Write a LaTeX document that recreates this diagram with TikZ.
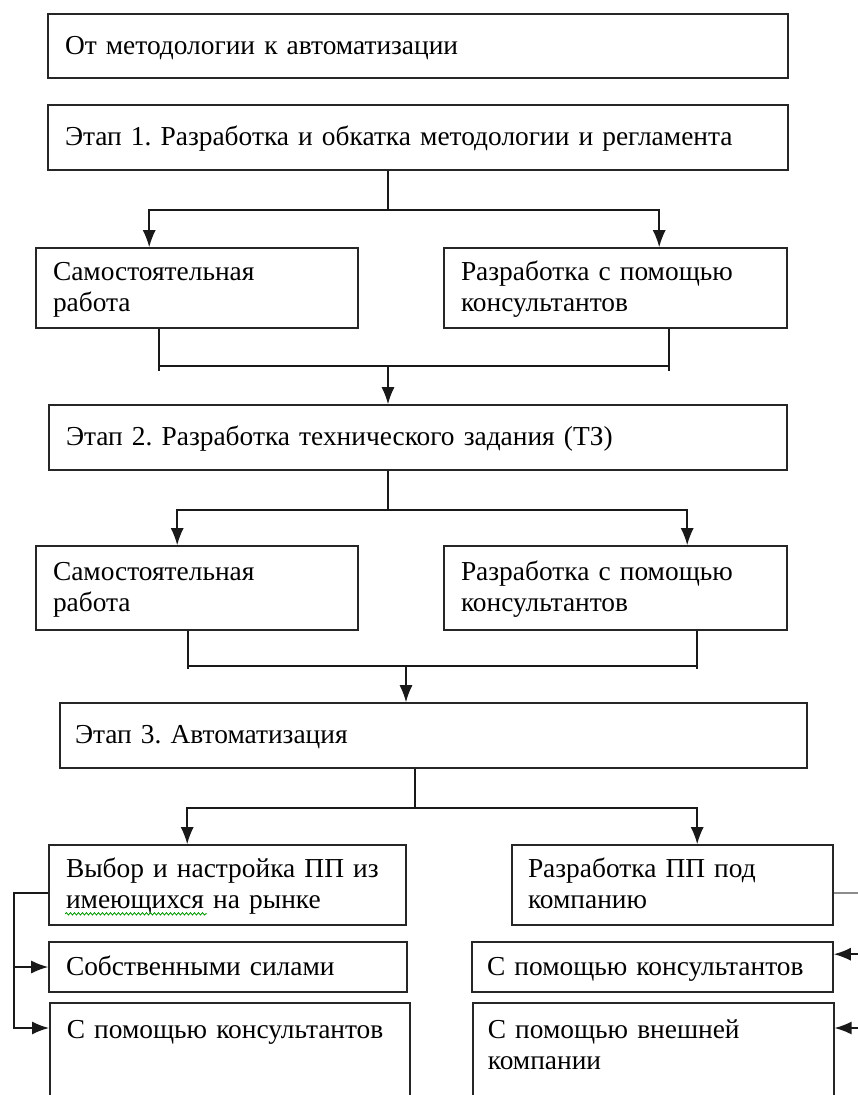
\documentclass[tikz,border=0pt]{standalone}
\usepackage{fontspec}
\setmainfont{Liberation Serif}[WordSpace=0.7]
\usetikzlibrary{arrows.meta,calc,decorations.pathmorphing}
\frenchspacing
\tikzset{
  box/.style={draw=black!85, line width=1.6pt, rectangle, inner xsep=17pt, inner ysep=0pt, align=left,
    font=\fontsize{27.4}{31}\selectfont,
    execute at begin node={\rule{0pt}{24pt}}, execute at end node={\rule[-8pt]{0pt}{8pt}}},
  conn/.style={draw=black!90, line width=1.5pt},
  arr/.style={conn, -{Latex[length=17pt,width=13pt]}},
}
\begin{document}
\begin{tikzpicture}[x=1pt,y=-1pt]
\useasboundingbox (0,0) rectangle (858,1095);
\clip (0,0) rectangle (858,1095);
% boxes
\node[box, minimum width=740pt, minimum height=64pt, text width=706pt] (t0) at (418,46) {От методологии к автоматизации};
\node[box, minimum width=740pt, minimum height=65pt, text width=706pt] (e1) at (418,137.5) {Этап 1. Разработка и обкатка методологии и регламента};
\node[box, minimum width=322pt, minimum height=80pt, text width=288pt] (L1) at (197,288) {Самостоятельная\\работа};
\node[box, minimum width=343pt, minimum height=80pt, text width=309pt] (R1) at (615.5,288) {Разработка с помощью\\консультантов};
\node[box, minimum width=738pt, minimum height=65pt, text width=704pt] (e2) at (418,437.5) {Этап 2. Разработка технического задания (ТЗ)};
\node[box, minimum width=322pt, minimum height=84pt, text width=288pt] (L2) at (197,588) {Самостоятельная\\работа};
\node[box, minimum width=343pt, minimum height=84pt, text width=309pt] (R2) at (615.5,588) {Разработка с помощью\\консультантов};
\node[box, minimum width=747pt, minimum height=65pt, text width=717pt, inner xsep=15pt] (e3) at (433.5,735.5) {Этап 3. Автоматизация};
\node[box, minimum width=357pt, minimum height=80pt, text width=323pt] (L3) at (227.5,885) {Выбор и настройка ПП из\\имеющихся на рынке};
\node[box, minimum width=321pt, minimum height=80pt, text width=289pt, inner xsep=16pt] (R3) at (672.5,885) {Разработка ПП под\\компанию};
\node[box, minimum width=358pt, minimum height=50pt, text width=324pt] (S1) at (228,967) {Собственными силами};
\node[box, minimum width=361pt, minimum height=50pt, text width=331pt, inner xsep=15pt] (S2) at (652.5,967) {С помощью консультантов};
\node[box, anchor=north west, text width=326pt, inner ysep=12pt] (B1) at (49,1002) {\parbox[t][130pt][t]{326pt}{С помощью консультантов}};
\node[box, anchor=north west, text width=331pt, inner xsep=15pt, inner ysep=12pt] (B2) at (472,1002) {\parbox[t][130pt][t]{331pt}{С помощью внешней\\компании}};
% spelling mark
\draw[green!60!black, line width=0.8pt, decorate, decoration={snake, amplitude=1.2pt, segment length=4pt}]
  ($(L3.south west)+(17,-12)$) -- ++(142,0);
% stage 1 split
\coordinate (j1) at (388,210);
\draw[conn] (j1 |- e1.south) -- (j1);
\draw[arr] (j1) -| ($(L1.north west)+(114,0)$);
\draw[arr] (j1) -| ($(R1.north west)+(216,0)$);
% merge 1
\coordinate (m1) at (388,365);
\draw[conn] ($(L1.south west)+(124,0)$) -- ++(0,42);
\draw[conn] ($(R1.south west)+(226,0)$) -- ++(0,42);
\draw[conn] ($(L1.south west)+(124,37)$) -- ($(R1.south west)+(226,37)$);
\draw[arr] (m1) -- (m1 |- e2.north);
% stage 2 split
\coordinate (j2) at (388,510);
\draw[conn] (j2 |- e2.south) -- (j2);
\draw[arr] (j2) -| ($(L2.north west)+(142,0)$);
\draw[arr] (j2) -| ($(R2.north west)+(244,0)$);
% merge 2
\coordinate (m2) at (406,665);
\draw[conn] ($(L2.south west)+(153,0)$) -- ++(0,38);
\draw[conn] ($(R2.south west)+(254,0)$) -- ++(0,38);
\draw[conn] ($(L2.south west)+(153,35)$) -- ($(R2.south west)+(254,35)$);
\draw[arr] (m2) -- (m2 |- e3.north);
% stage 3 split
\coordinate (j3) at (415,808);
\draw[conn] (j3 |- e3.south) -- (j3);
\draw[arr] (j3) -| ($(L3.north west)+(139,0)$);
\draw[arr] (j3) -| ($(R3.north west)+(186,0)$);
% left bracket
\coordinate (lb) at (14,893);
\coordinate (b1in) at ($(B1.north west)+(0,26)$);
\draw[arr] ($(L3.west)+(0,8)$) -- (lb) |- (b1in);
\draw[arr] (lb |- S1.west) -- (S1.west);
% right bracket
\coordinate (rb) at (875,893);
\coordinate (s2in) at ($(S2.north east)+(0,13)$);
\coordinate (b2in) at ($(B2.north east)+(0,26)$);
\draw[draw=black!45, line width=2.4pt] ($(R3.east)+(0,8)$) -- (rb);
\draw[conn] (rb) -- (rb |- b2in);
\draw[arr] (rb |- s2in) -- (s2in);
\draw[arr] (rb |- b2in) -- (b2in);
\end{tikzpicture}
\end{document}
